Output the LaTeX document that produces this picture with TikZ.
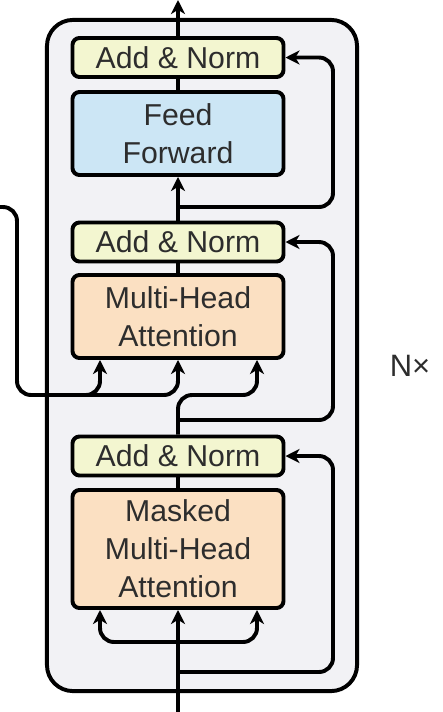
\documentclass[tikz,border=0pt]{standalone}
\usepackage{fontspec}
\setmainfont{Liberation Sans}
\usetikzlibrary{arrows.meta,calc}

\definecolor{layergray}{RGB}{242,242,245}
\definecolor{normyellow}{RGB}{243,246,208}
\definecolor{ffblue}{RGB}{204,230,245}
\definecolor{attnorange}{RGB}{251,224,194}
\definecolor{textgray}{RGB}{45,45,45}

\begin{document}
\begin{tikzpicture}[
x=0.025cm,y=-0.025cm,
layerbox/.style={draw,line width=2.8pt,rounded corners=0.65cm,fill=layergray,minimum width=7.75cm,minimum height=16.775cm},
block/.style={draw,line width=2.8pt,rounded corners=5pt,minimum width=5.275cm,inner sep=0pt,align=center,text=textgray,font=\fontsize{21.5}{27}\selectfont},
addnorm/.style={block,fill=normyellow,minimum height=0.975cm},
ffbox/.style={block,fill=ffblue,minimum height=2.075cm},
attnbox/.style={block,fill=attnorange,minimum height=2.075cm},
wire/.style={line width=2.8pt},
wirearr/.style={wire,-{Stealth[length=10pt,width=10pt,inset=3pt]}},
curved/.style={rounded corners=0.35cm}
]
\useasboundingbox (0,0) rectangle (442,712);

\node[layerbox] (layer) at (202,355.5) {};

\node[addnorm] (an3) at (178,57.5) {Add \& Norm};
\node[ffbox] (ff) at (178,133.5) {Feed\\Forward};
\node[addnorm] (an2) at (178,242) {Add \& Norm};
\node[attnbox] (mha) at (178,316.5) {Multi-Head\\Attention};
\node[addnorm] (an1) at (178,456) {Add \& Norm};
\node[attnbox,minimum height=2.95cm] (mmha) at (178,549) {Masked\\Multi-Head\\Attention};

\node[text=textgray,font=\fontsize{22}{26}\selectfont] (nx) at (410,366) {N×};

\coordinate (out) at (178,0);
\coordinate (in) at (178,712);
\coordinate (enc) at (0,207);

% top sub-layer
\draw[wirearr] (an3.north) -- (out);
\draw[wire] (ff.north) -- (an3.south);
\draw[wirearr] (an2.north) -- (ff.south);
\draw[wirearr,curved] (178,207) -- (333,207) -- (333,57.5) -- (an3.east);

% middle sub-layer
\draw[wire] (mha.north) -- (an2.south);
\draw[wirearr,curved] (178,420) -- (333,420) -- (333,242) -- (an2.east);
\draw[wirearr,curved] (enc) -- (17,207) -- (17,395) -- (178,395) -- (mha.south);
\draw[wirearr,curved] (80,395) -- (100,395) -- ($(mha.south)+(-78,0)$);
\draw[wirearr,curved] (an1.north) -- (178,395) -- (257,395) -- ($(mha.south)+(79,0)$);

% bottom sub-layer
\draw[wire] (mmha.north) -- (an1.south);
\draw[wirearr,curved] (178,672) -- (333,672) -- (333,456) -- (an1.east);
\draw[wirearr] (in) -- (mmha.south);
\draw[wirearr,curved] (178,642) -- (100,642) -- ($(mmha.south)+(-78,0)$);
\draw[wirearr,curved] (178,642) -- (257,642) -- ($(mmha.south)+(79,0)$);

\end{tikzpicture}
\end{document}
